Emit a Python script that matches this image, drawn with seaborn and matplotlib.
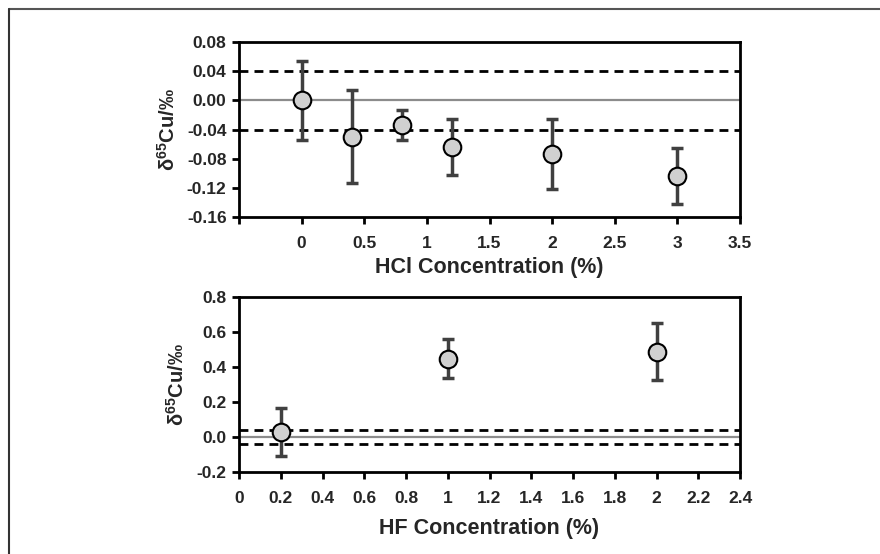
import numpy as np
import pandas as pd
import matplotlib
matplotlib.use("Agg")
import matplotlib.pyplot as plt
import seaborn as sns
from matplotlib.lines import Line2D

# ---- data ----
hcl_conc = [0, 0.4, 0.8, 1.2, 2, 3]
hcl_delta = [0.000, -0.050, -0.034, -0.064, -0.074, -0.104]
hcl_err = [0.054, 0.064, 0.021, 0.039, 0.048, 0.038]

hf_conc = [0.2, 1, 2]
hf_delta = [0.030, 0.448, 0.488]
hf_err = [0.138, 0.110, 0.162]

hcl_xticks = [-0.5, 0, 0.5, 1, 1.5, 2, 2.5, 3, 3.5]
hcl_xticklabels = ["", "0", "0.5", "1", "1.5", "2", "2.5", "3", "3.5"]
hcl_yticks = [0.08, 0.04, 0.00, -0.04, -0.08, -0.12, -0.16]
hcl_yticklabels = ["0.08", "0.04", "0.00", "-0.04", "-0.08", "-0.12", "-0.16"]

hf_xticks = [0, 0.2, 0.4, 0.6, 0.8, 1, 1.2, 1.4, 1.6, 1.8, 2, 2.2, 2.4]
hf_xticklabels = ["0", "0.2", "0.4", "0.6", "0.8", "1", "1.2", "1.4", "1.6", "1.8", "2", "2.2", "2.4"]
hf_yticks = [0.8, 0.6, 0.4, 0.2, 0.0, -0.2]
hf_yticklabels = ["0.8", "0.6", "0.4", "0.2", "0.0", "-0.2"]

ref_band = [-0.04, 0.04]

sns.set_theme(style="ticks")
plt.rcParams["font.family"] = ["Liberation Sans", "DejaVu Sans"]
plt.rcParams["mathtext.fontset"] = "custom"
plt.rcParams["mathtext.rm"] = "Liberation Sans"
plt.rcParams["mathtext.bf"] = "Liberation Sans:bold"

W, H = 880, 554
fig = plt.figure(figsize=(W / 100, H / 100), dpi=100)

def rect(l, r, t, b):
    return [l / W, 1 - b / H, (r - l) / W, (b - t) / H]

ax1 = fig.add_axes(rect(239, 740, 42, 217))
ax2 = fig.add_axes(rect(239, 740, 297, 472))

ylabel = r"$\mathregular{\delta}^{\mathbf{65}}$Cu/‰"

def style(ax, xlim, ylim, xt, xtl, yt, ytl, xlabel, xpad):
    ax.set_xlim(*xlim)
    ax.set_ylim(*ylim)
    ax.set_xticks(xt)
    ax.set_xticklabels(xtl)
    ax.set_yticks(yt)
    ax.set_yticklabels(ytl)
    for s in ax.spines.values():
        s.set_linewidth(2.0)
        s.set_color("black")
        s.set_visible(True)
    ax.tick_params(axis="both", direction="out", length=5, width=2.0,
                   color="black", labelsize=12.5, pad=4)
    for lab in ax.get_xticklabels() + ax.get_yticklabels():
        lab.set_fontweight("bold")
    ax.tick_params(axis="x", pad=9)
    ax.set_xlabel(xlabel, fontsize=15.5, fontweight="bold", labelpad=xpad)
    ax.set_ylabel(ylabel, fontsize=14.5, fontweight="bold", labelpad=6)
    ax.axhline(0, color="#8c8c8c", lw=1.6, zorder=1)
    for v in ref_band:
        ax.axhline(v, color="black", lw=2.0, ls=(0, (3.2, 2.2)), zorder=1)

def draw(ax, x, y, e):
    ax.errorbar(x, y, yerr=e, fmt="none", ecolor="#404040", elinewidth=2.5,
                capsize=4, capthick=2.5, zorder=2)
    df = pd.DataFrame({"x": x, "y": y})
    sns.scatterplot(data=df, x="x", y="y", ax=ax, s=160, color="#d0d0d0",
                    edgecolor="black", linewidth=1.5, zorder=3, legend=False)

draw(ax1, hcl_conc, hcl_delta, hcl_err)
style(ax1, (-0.5, 3.5), (-0.16, 0.08), hcl_xticks, hcl_xticklabels,
      hcl_yticks, hcl_yticklabels, "HCl Concentration (%)", 4)

draw(ax2, hf_conc, hf_delta, hf_err)
style(ax2, (0, 2.4), (-0.2, 0.8), hf_xticks, hf_xticklabels,
      hf_yticks, hf_yticklabels, "HF Concentration (%)", 8)

# figure frame (top and left edges)
fig.add_artist(Line2D([8.5 / W, 1], [1 - 8.5 / H, 1 - 8.5 / H], color="#555555", lw=1.5,
                      transform=fig.transFigure))
fig.add_artist(Line2D([8.5 / W, 8.5 / W], [0, 1 - 8.5 / H], color="#333333", lw=1.5,
                      transform=fig.transFigure))

fig.savefig("out.png", dpi=100)
